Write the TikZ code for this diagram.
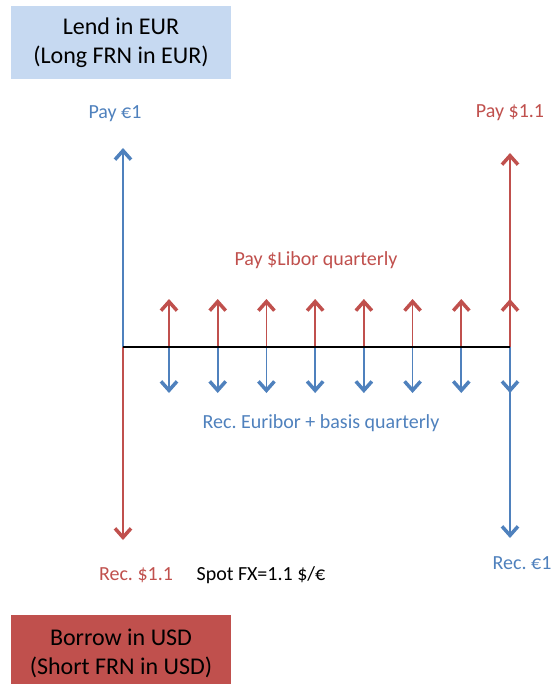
\documentclass[tikz,border=0pt]{standalone}
\usepackage{fontspec}
\setmainfont{Carlito}
\usepackage{tikz}
\usetikzlibrary{arrows.meta,positioning,calc}
\definecolor{cfblue}{RGB}{79,129,189}
\definecolor{cfred}{RGB}{192,80,77}
\definecolor{cfpale}{RGB}{198,217,241}
\frenchspacing

\begin{document}
\begin{tikzpicture}[x=1pt,y=-1pt,
    flow/.style={line width=1.6pt,-{Straight Barb[length=9pt,width=16pt,line width=3.5pt]}},
    lbl/.style={font=\fontsize{20}{24}\selectfont},
    box/.style={rectangle,minimum width=220pt,align=center,
      font=\fontsize{24}{29}\selectfont}]
  \useasboundingbox (0,0) rectangle (553,684);
  % the two legs
  \node[box,fill=cfpale,minimum height=73pt] (lend) at (121,42.5)
  {Lend in EUR\\(Long FRN in EUR)};
  \node[box,fill=cfred,minimum height=76pt] (borrow) at (121,653)
  {Borrow in USD\\(Short FRN in USD)};
  % time axis and exchanges of principal
  \coordinate (t0) at (123,347);
  \coordinate (eurtop) at (123,148);
  \coordinate (usdbot) at (123,540);
  \draw[flow,cfblue] (t0) -- (eurtop);
  \draw[flow,cfred] (t0) -- (usdbot);
  % quarterly coupons
  \foreach \k in {1,...,8} {
    \coordinate (t\k) at ({169+48.714*(\k-1)},347);
    \coordinate (u\k) at ($(t\k)+(0,-48)$);
    \coordinate (d\k) at ($(t\k)+(0,46)$);
    \draw[flow,cfred] (t\k) -- (u\k);
    \draw[flow,cfblue] (t\k) -- (d\k);
  }
  \coordinate (usdtop) at (510,153);
  \coordinate (eurbot) at (510,538);
  \draw[flow,cfred] (t8) -- (usdtop);
  \draw[flow,cfblue] (t8) -- (eurbot);
  \draw[line width=2.8pt] (t0) -- (t8);
  % labels
  \node[lbl,text=cfblue] (payeur) at (115,114) {Pay €1};
  \node[lbl,text=cfred] (payusd) at (510,113) {Pay \$1.1};
  \node[lbl,text=cfred] (libor) at (316,260) {Pay \$Libor quarterly};
  \node[lbl,text=cfblue] (euribor) at (321,423) {Rec. Euribor + basis quarterly};
  \node[lbl,text=cfred] (recusd) at (136,575) {Rec. \$1.1};
  \node[lbl] (spot) at (261,575) {Spot FX=1.1 \$/€};
  \node[lbl,text=cfblue] (receur) at (522,563) {Rec. €1};
\end{tikzpicture}
\end{document}
